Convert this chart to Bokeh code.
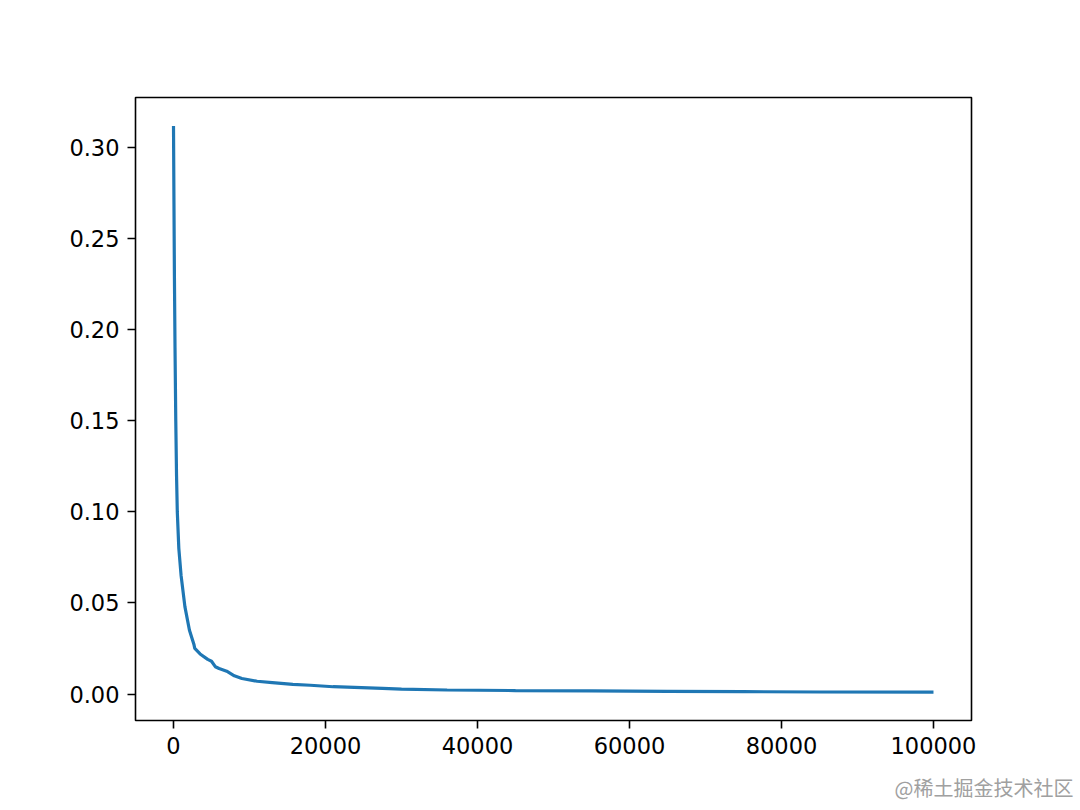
from bokeh.plotting import figure
from bokeh.models import Range1d, FixedTicker, PrintfTickFormatter, Title
from bokeh.embed import file_html
from bokeh.resources import INLINE

# data
steps = [0, 60, 120, 200, 300, 400, 500, 700, 1000, 1500, 2100, 2700, 2800, 3500,
         4500, 5000, 5500, 6000, 7000, 8000, 9000, 11000, 13000, 15700, 18000,
         21000, 27500, 30000, 36000, 45000, 55000, 65000, 75000, 85000, 100000]
loss = [0.312, 0.27, 0.23, 0.19, 0.15, 0.12, 0.10, 0.08, 0.065, 0.048, 0.035, 0.027,
        0.025, 0.022, 0.019, 0.018, 0.015, 0.014, 0.0125, 0.010, 0.0085, 0.007,
        0.0063, 0.0053, 0.0048, 0.0040, 0.0031, 0.0027, 0.0022, 0.0019, 0.0017,
        0.0015, 0.0013, 0.0011, 0.0010]
x_ticks = [0, 20000, 40000, 60000, 80000, 100000]
y_ticks = [0.0, 0.05, 0.10, 0.15, 0.20, 0.25, 0.30]
watermark = "@稀土掘金技术社区"

p = figure(width=1080, height=810, output_backend="svg", toolbar_location=None,
           x_range=Range1d(-5000, 105000), y_range=Range1d(-0.01455, 0.3276),
           min_border_left=135, min_border_top=97, min_border_right=109,
           min_border_bottom=90)
p.frame_width = 836
p.frame_height = 623

p.line(steps, loss, line_color="#1f77b4", line_width=3.2)

p.xgrid.visible = False
p.ygrid.visible = False
p.outline_line_color = "black"
p.outline_line_width = 1.6
p.background_fill_color = "white"
p.border_fill_color = "white"

for ax in (p.xaxis[0], p.yaxis[0]):
    ax.axis_line_color = None
    ax.major_tick_line_color = "black"
    ax.major_tick_line_width = 1.6
    ax.major_tick_out = 8
    ax.major_tick_in = 0
    ax.minor_tick_line_color = None
    ax.major_label_text_font = "DejaVu Sans"
    ax.major_label_text_font_size = "22.5px"
    ax.major_label_text_color = "black"
    ax.major_label_standoff = 8

p.xaxis[0].ticker = FixedTicker(ticks=x_ticks)
p.yaxis[0].ticker = FixedTicker(ticks=y_ticks)
p.xaxis[0].formatter = PrintfTickFormatter(format="%d")
p.yaxis[0].formatter = PrintfTickFormatter(format="%.2f")

p.add_layout(Title(text=watermark, align="right", offset=-102, standoff=29,
                   text_font="Noto Sans CJK SC", text_font_size="20px",
                   text_font_style="normal", text_color="#a0a0a0"), "below")

open("out.html", "w").write(file_html(p, INLINE))
